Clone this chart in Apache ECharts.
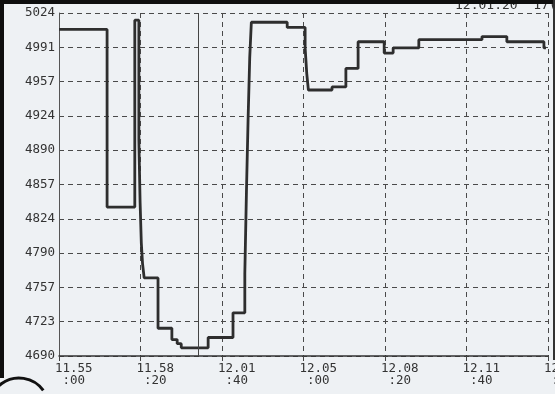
<!DOCTYPE html>
<html>
<head>
<meta charset="utf-8">
<script src="https://cdn.jsdelivr.net/npm/echarts@6/dist/echarts.min.js"></script>
<style>
html,body{margin:0;padding:0;background:#eef1f4;}
#c{width:555px;height:394px;}
</style>
</head>
<body>
<div id="c"></div>
<script>
// time in seconds after 11:55:00
const times  = [0,    118,  186,  196,  199,  202,  205,  209,  243,  277,  290,  300,  366,  427,  456,  460,  464,  468,  472,  560,  604,  608,  612,  670,  704,  734,  798,  820,  883,  1038, 1099, 1190, 1195];
const values = [5008, 4835, 5017, 4900, 4840, 4800, 4780, 4766, 4717, 4706, 4702, 4698, 4708, 4732, 4770, 4850, 4920, 4980, 5015, 5010, 4990, 4965, 4949, 4952, 4970, 4996, 4985, 4990, 4998, 5001, 4996, 4990, 4990];
const yTickLabels = ['4690','4723','4757','4790','4824','4857','4890','4924','4957','4991','5024'];
const xTickLabels = ['11.55\n :00','11.58\n :20','12.01\n :40','12.05\n :00','12.08\n :20','12.11\n :40','12.15\n :00'];
const cursorTime = 341;
const Y_MIN = 4690, Y_MAX = 5024;

const toTick = v => (v - Y_MIN) / (Y_MAX - Y_MIN) * (yTickLabels.length - 1);
const seriesData = times.map((t, i) => [t, toTick(values[i])]);

const chart = echarts.init(document.getElementById('c'), null, {renderer: 'canvas'});
const FONT = 'DejaVu Sans Mono';
const dashed = {color: '#4a4a4a', width: 1, type: [5, 4]};

chart.setOption({
  backgroundColor: '#eef1f4',
  animation: false,
  grid: {left: 59, top: 13, right: 7, bottom: 38, containLabel: false, outerBoundsMode: 'none'},
  xAxis: {
    type: 'value', min: 0, max: 1200, interval: 200,
    axisLine: {show: true, lineStyle: {color: '#333', width: 1.5}},
    axisTick: {show: true, length: 5, lineStyle: {color: '#444'}},
    splitLine: {show: true, lineStyle: dashed},
    axisLabel: {
      show: true, showMinLabel: true, showMaxLabel: true, hideOverlap: false,
      formatter: v => xTickLabels[Math.round(v / 200)],
      fontFamily: FONT, fontSize: 12.5, color: '#333', lineHeight: 11.5,
      align: 'left', padding: [0, 0, 0, -4], margin: 7
    }
  },
  yAxis: {
    type: 'value', min: 0, max: 10, interval: 1,
    axisLine: {show: true, lineStyle: {color: '#555', width: 1}},
    axisTick: {show: false},
    splitLine: {show: true, lineStyle: dashed},
    axisLabel: {
      formatter: v => yTickLabels[Math.round(v)],
      fontFamily: FONT, fontSize: 12.5, color: '#333', margin: 4
    }
  },
  series: [{
    type: 'line', step: 'end', data: seriesData, showSymbol: false,
    lineStyle: {color: '#2e2e2e', width: 2.8},
    markLine: {
      silent: true, symbol: ['none', 'none'], label: {show: false},
      lineStyle: {color: '#444', width: 1, type: 'solid'},
      data: [{xAxis: cursorTime}]
    }
  }],
  graphic: [
    {type: 'text', left: 455, top: -1, z: 10,
     style: {text: '12.01:20  17(', font: '13px "DejaVu Sans Mono"', fill: '#333'}},
    {type: 'rect', shape: {x: 0, y: 0, width: 555, height: 4}, style: {fill: '#0e0e0e'}, z: 20},
    {type: 'rect', shape: {x: 0, y: 0, width: 4, height: 378}, style: {fill: '#0e0e0e'}, z: 20},
    {type: 'rect', shape: {x: 553, y: 0, width: 2, height: 360}, style: {fill: '#333'}, z: 20},
    {type: 'arc', shape: {cx: 19, cy: 408, r: 30, startAngle: Math.PI * 1.05, endAngle: Math.PI * 1.8},
     style: {stroke: '#111', lineWidth: 3, fill: null}, z: 20}
  ]
});
</script>
</body>
</html>
